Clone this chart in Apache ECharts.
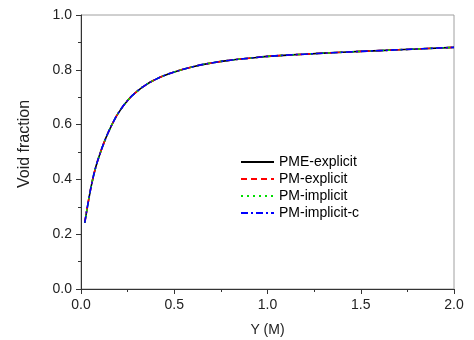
<!DOCTYPE html>
<html>
<head>
<meta charset="utf-8">
<script src="https://cdn.jsdelivr.net/npm/echarts@6/dist/echarts.min.js"></script>
<style>html,body{margin:0;padding:0;background:#fff;}#c{width:474px;height:340px;}</style>
</head>
<body>
<div id="c"></div>
<script>
const xVals = [0.02,0.04,0.06,0.08,0.10,0.125,0.15,0.175,0.2,0.25,0.3,0.35,0.4,0.45,0.5,0.6,0.7,0.8,0.9,1.0,1.2,1.4,1.6,1.8,2.0];
const pmeExplicit   = [0.241,0.322,0.392,0.447,0.490,0.537,0.577,0.612,0.642,0.688,0.721,0.746,0.765,0.780,0.792,0.811,0.825,0.835,0.842,0.849,0.857,0.864,0.870,0.876,0.882];
const pmExplicit    = [0.241,0.322,0.392,0.447,0.490,0.537,0.577,0.612,0.642,0.688,0.721,0.746,0.765,0.780,0.792,0.811,0.825,0.835,0.842,0.849,0.857,0.864,0.870,0.876,0.882];
const pmImplicit    = [0.241,0.322,0.392,0.447,0.490,0.537,0.577,0.612,0.642,0.688,0.721,0.746,0.765,0.780,0.792,0.811,0.825,0.835,0.842,0.849,0.857,0.864,0.870,0.876,0.882];
const pmImplicitC   = [0.241,0.322,0.392,0.447,0.490,0.537,0.577,0.612,0.642,0.688,0.721,0.746,0.765,0.780,0.792,0.811,0.825,0.835,0.842,0.849,0.857,0.864,0.870,0.876,0.882];
const seriesNames = ['PME-explicit','PM-explicit','PM-implicit','PM-implicit-c'];
const xAxisName = 'Y (M)';
const yAxisName = 'Void fraction';

const pair = ys => xVals.map((x,i)=>[x, ys[i]]);
const font = 'Arial, "Liberation Sans", sans-serif';
const axisColor = '#333';
const chart = echarts.init(document.getElementById('c'), null, {renderer:'canvas'});
const styles = [
  {color:'#000000', type:'solid'},
  {color:'#ff0000', type:[6,4]},
  {color:'#00dd00', type:[2,4]},
  {color:'#0000ff', type:[7,3,2,3]}
];
const datas = [pmeExplicit, pmExplicit, pmImplicit, pmImplicitC];
chart.setOption({
  animation:false,
  backgroundColor:'#fff',
  grid:{left:81, right:20, top:15, bottom:51, containLabel:false, outerBoundsMode:'none',
        show:true, borderColor:'#a0a0a0', borderWidth:1, backgroundColor:'transparent'},
  legend:{
    orient:'vertical', left:235, top:150, itemWidth:33, itemHeight:14, itemGap:3,
    itemStyle:{opacity:0},
    textStyle:{fontFamily:font, fontSize:14, color:'#000'},
    data:seriesNames
  },
  xAxis:{
    type:'value', min:0, max:2, interval:0.5,
    name:xAxisName, nameLocation:'middle', nameGap:34,
    nameTextStyle:{fontFamily:font, fontSize:14, color:'#222'},
    axisLine:{show:true, lineStyle:{color:axisColor, width:1}},
    axisTick:{show:true, inside:false, length:5, lineStyle:{color:axisColor}},
    minorTick:{show:true, splitNumber:2, length:3, lineStyle:{color:axisColor}},
    splitLine:{show:false},
    axisLabel:{fontFamily:font, fontSize:14, color:'#222', margin:9, formatter:v=>v.toFixed(1)}
  },
  yAxis:{
    type:'value', min:0, max:1, interval:0.2,
    name:yAxisName, nameLocation:'middle', nameGap:48, nameRotate:90,
    nameTextStyle:{fontFamily:font, fontSize:16, color:'#222', padding:[0,0,0,16]},
    axisLine:{show:true, lineStyle:{color:axisColor, width:1}},
    axisTick:{show:true, inside:false, length:5, lineStyle:{color:axisColor}},
    minorTick:{show:true, splitNumber:2, length:3, lineStyle:{color:axisColor}},
    splitLine:{show:false},
    axisLabel:{fontFamily:font, fontSize:14, color:'#222', margin:9, formatter:v=>v.toFixed(1)}
  },
  series: seriesNames.map((n,i)=>({
    name:n, type:'line', smooth:true, showSymbol:false, symbol:'none',
    data:pair(datas[i]),
    lineStyle:{color:styles[i].color, type:styles[i].type, width:1.6},
    itemStyle:{color:styles[i].color},
    z:2+i
  }))
});
</script>
</body>
</html>
